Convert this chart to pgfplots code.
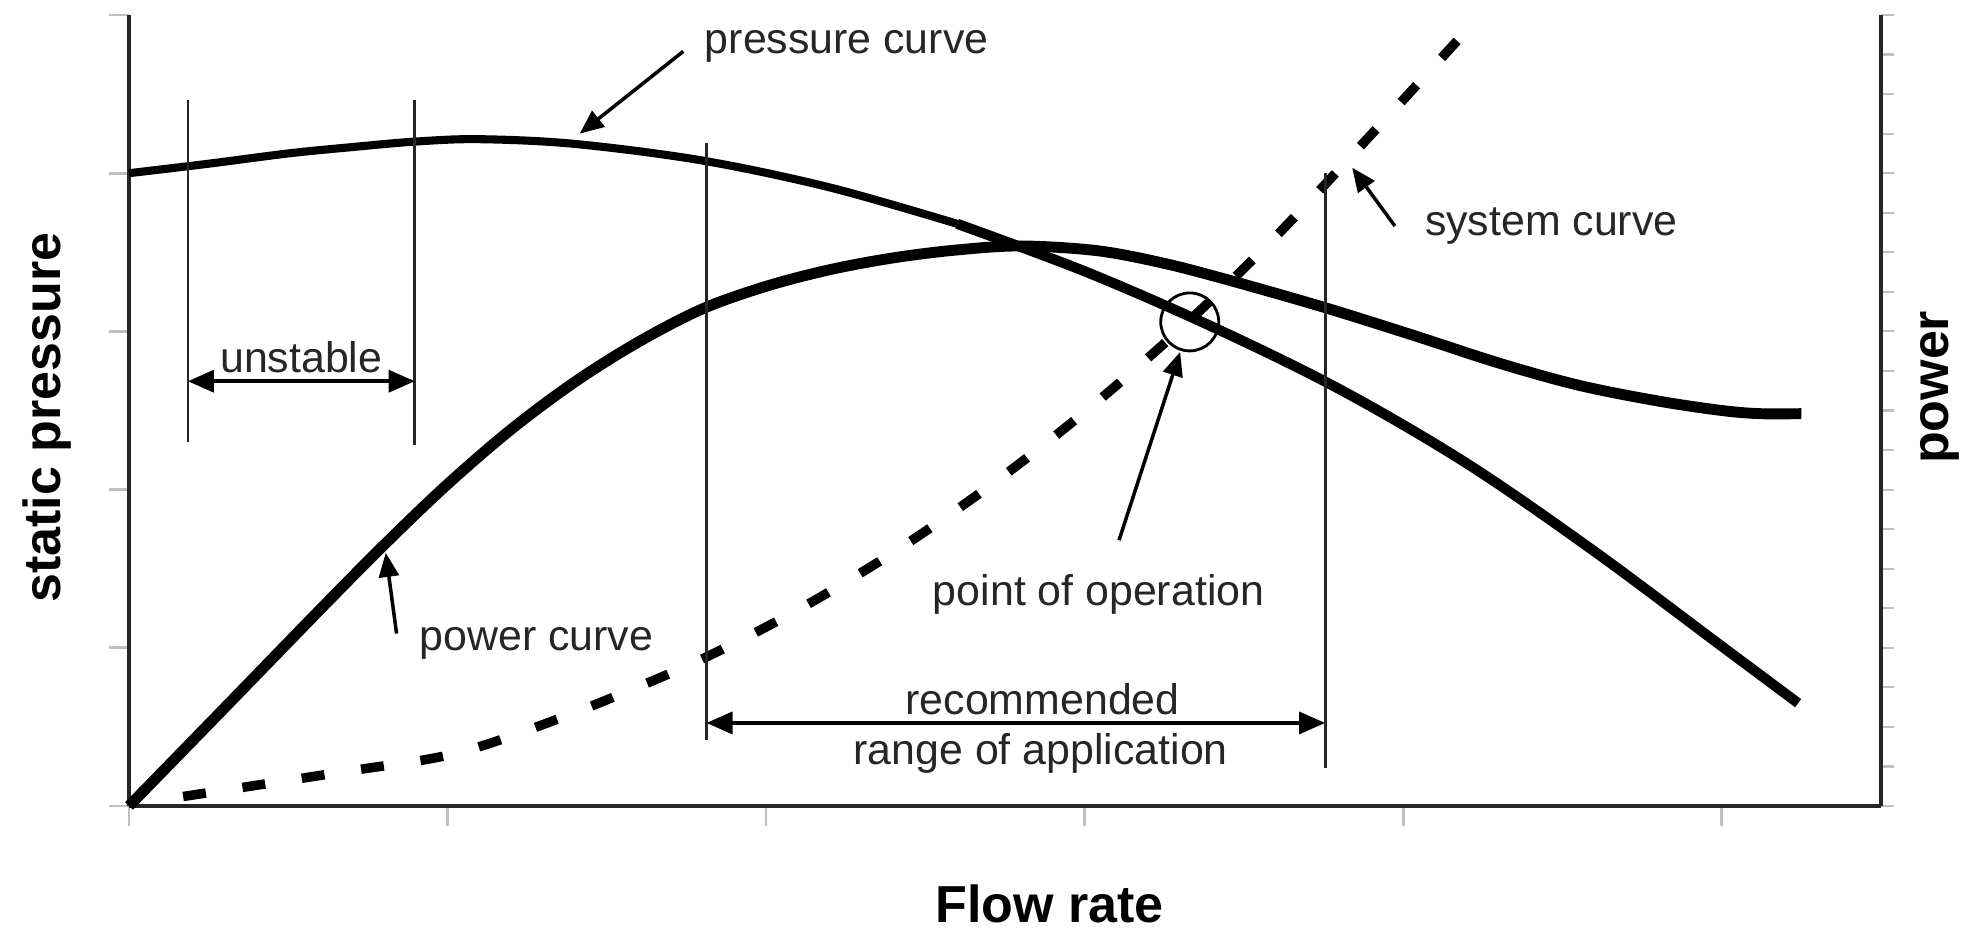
\documentclass[border=0pt]{standalone}
\usepackage{pgfplots}
\pgfplotsset{compat=1.18}
\usepackage{pgfplotstable}
\usepackage{fontspec}
\setmainfont{Liberation Sans}
\usetikzlibrary{arrows.meta}
\newcommand\ann{\fontsize{12.2}{14}\selectfont}
\newcommand\lab{\fontsize{14.8}{17}\selectfont\bfseries}

% pressure curve, left (thinner) part
\pgfplotstableread{
x y
0.00 4.00
0.25 4.06
0.50 4.125
0.70 4.165
0.90 4.20
1.10 4.215
1.40 4.185
1.80 4.08
2.20 3.91
2.60 3.68
}\pressureA

% pressure curve, right (thicker) part
\pgfplotstableread{
x y
2.60 3.68
3.00 3.38
3.40 3.03
3.80 2.635
4.20 2.165
4.60 1.61
5.00 1.01
5.24 0.65
}\pressureB

\pgfplotstableread{
x y
0.00 0.00
0.30 0.62
0.60 1.242
0.80 1.649
1.00 2.034
1.20 2.381
1.40 2.681
1.60 2.934
1.80 3.142
2.00 3.285
2.20 3.39
2.40 3.465
2.60 3.515
2.80 3.54
3.04 3.51
3.25 3.43
3.46 3.32
3.755 3.15
4.04 2.97
4.30 2.80
4.55 2.66
4.80 2.56
5.00 2.50
5.12 2.48
5.25 2.48
}\power

\pgfplotstableread{
x y
0.17 0.06
0.40 0.131
0.70 0.224
0.95 0.30
1.10 0.375
1.30 0.515
1.50 0.671
1.80 0.93
2.10 1.24
2.40 1.603
2.70 2.02
3.00 2.49
3.30 3.015
3.60 3.60
3.90 4.245
4.18 4.86
}\system

\begin{document}
\begin{tikzpicture}
\begin{axis}[
  scale only axis, width=175.2mm, height=79.1mm,
  xmin=0, xmax=5.5, ymin=0, ymax=5,
  axis x line*=bottom, axis y line*=left,
  axis line style={-, line width=0.9pt, black!85},
  xtick={0,...,5}, ytick={0,...,5},
  xticklabels={}, yticklabels={},
  tick align=outside, major tick length=2mm,
  tick style={gray!50, line width=0.8pt},
  clip=false,
]
\addplot[line width=2.3pt, smooth, tension=0.55] table {\pressureA};
\addplot[line width=2.9pt, smooth, tension=0.55] table {\pressureB};
\addplot[line width=3.1pt, smooth, tension=0.55] table {\power};
\addplot[line width=2.7pt, dash pattern=on 2.3mm off 3.7mm, smooth, tension=0.55] table {\system};

% vertical marker lines
\draw[line width=0.8pt, black!85] (axis cs:0.185,2.30) -- (axis cs:0.185,4.46);
\draw[line width=0.8pt, black!85] (axis cs:0.897,2.285) -- (axis cs:0.897,4.46);
\draw[line width=0.8pt, black!85] (axis cs:1.813,0.42) -- (axis cs:1.813,4.19);
\draw[line width=0.8pt, black!85] (axis cs:3.755,0.24) -- (axis cs:3.755,4.00);

% range arrows
\draw[line width=1pt, {Triangle[length=2.6mm,width=2.2mm]}-{Triangle[length=2.6mm,width=2.2mm]}]
  (axis cs:0.185,2.685) -- (axis cs:0.897,2.685);
\draw[line width=1pt, {Triangle[length=2.6mm,width=2.2mm]}-{Triangle[length=2.6mm,width=2.2mm]}]
  (axis cs:1.813,0.525) -- (axis cs:3.755,0.525);

% pointer arrows
\draw[line width=1pt, -{Triangle[length=2.4mm,width=2mm]}] (axis cs:1.74,4.77) -- (axis cs:1.415,4.25);
\draw[line width=1pt, -{Triangle[length=2.4mm,width=2mm]}] (axis cs:3.974,3.666) -- (axis cs:3.84,4.035);
\draw[line width=1pt, -{Triangle[length=2.4mm,width=2mm]}] (axis cs:0.84,1.09) -- (axis cs:0.806,1.60);
\draw[line width=1pt, -{Triangle[length=2.4mm,width=2mm]}] (axis cs:3.108,1.68) -- (axis cs:3.30,2.87);

% point of operation circle
\draw[line width=0.8pt] (axis cs:3.33,3.06) circle[radius=2.9mm];

% annotation texts
\node[font=\ann, text=black!85] at (axis cs:2.253,4.80) {pressure curve};
\node[font=\ann, text=black!85] at (axis cs:4.465,3.665) {system curve};
\node[font=\ann, text=black!85] at (axis cs:0.541,2.836) {unstable};
\node[font=\ann, text=black!85] at (axis cs:1.279,1.028) {power curve};
\node[font=\ann, text=black!85] at (axis cs:3.044,1.335) {point of operation};
\node[font=\ann, text=black!85] at (axis cs:2.868,0.677) {recommended};
\node[font=\ann, text=black!85] at (axis cs:2.862,0.33) {range of application};

% axis labels
\node[font=\lab, rotate=90] at (axis cs:-0.257,2.456) {static pressure};
\node[font=\lab, rotate=90] at (axis cs:5.686,2.646) {power};
\node[font=\lab] at (axis cs:2.89,-0.62) {Flow rate};
\end{axis}

\begin{axis}[
  scale only axis, width=175.2mm, height=79.1mm,
  xmin=0, xmax=5.5, ymin=0, ymax=20,
  axis x line=none, axis y line*=right,
  axis line style={-, line width=0.9pt, black!85},
  ytick={0,...,20}, yticklabels={},
  tick align=outside, major tick length=1.3mm,
  tick style={gray!50, line width=0.6pt},
]
\end{axis}

\pgfresetboundingbox
\path (-12.9mm,-12.3mm) rectangle (184.1mm,80.6mm);
\end{tikzpicture}
\end{document}
